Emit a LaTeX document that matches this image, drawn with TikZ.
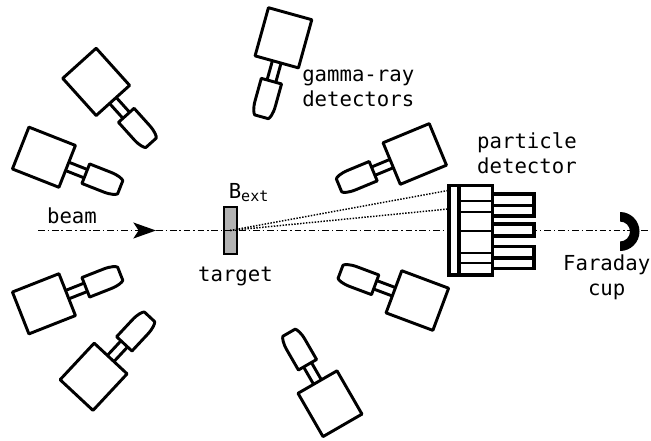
\documentclass[tikz,border=0pt]{standalone}
\usepackage{fontspec}
\newfontfamily\lblfont{DejaVu Sans Mono}
\usetikzlibrary{arrows.meta}
\begin{document}
\begin{tikzpicture}[x=0.75pt,y=-0.75pt,
  lbl/.style={font=\lblfont\fontsize{15.5}{18.75}\selectfont, inner sep=0pt},
  detline/.style={line width=2.2pt, line join=round},
  beamline/.style={line width=1pt, dash pattern=on 5pt off 2.2pt on 1pt off 2.2pt},
  dotline/.style={line width=1.1pt, dash pattern=on 1.1pt off 1.1pt},
  pdthick/.style={line width=2.4pt},
  pdthin/.style={line width=1.6pt},
  % one gamma-ray detector: crystal, neck and housing, pointing along +x towards the origin
  gdet/.pic={
    \draw[detline, fill=white] (175,-22.5) rectangle (225,22.5);
    \draw[detline] (155,-4.5) -- (175,-4.5) (155,4.5) -- (175,4.5);
    \draw[detline, fill=white] (155,-10.5) -- (132,-10.5)
      .. controls (124,-10.5) and (119,-8.5) .. (118,-7) -- (118,7)
      .. controls (119,8.5) and (124,10.5) .. (132,10.5) -- (155,10.5) -- cycle;
  }
]
\useasboundingbox (0,0) rectangle (651,440);

% target foil
\node[draw, line width=1.5pt, fill=gray!60, minimum width=9.75pt, minimum height=34.9pt,
  inner sep=0pt] (target) at (230,230.5) {};

% gamma-ray detector array around the target
\foreach \ang in {74.5,132,158.5,201.5,227,300,339.5,22.5}
  \pic[rotate=\ang] at (target.center) {gdet};

% beam axis
\coordinate (bs) at (38,230.5);
\coordinate (ah) at (156,230.5);
\coordinate (be) at (651,230.5);
\draw[beamline, -{Stealth[length=17pt,width=12pt,inset=4pt]}] (bs) -- (ah);
\draw[beamline] (ah) -- (be);

% scattered particle paths
\coordinate (pdA) at (448,190.5);
\coordinate (pdB) at (448,209);
\draw[dotline] (target.center) -- (pdA);
\draw[dotline] (target.center) -- (pdB);

% particle detector: strips, segmented block and light guides
\foreach \ya/\yb in {194/216, 224/236, 246.5/268.5}
  \draw[pdthick, fill=white] (492.5,\ya) rectangle (534,\yb);
\draw[pdthick] (492.5,205.5) -- (534,205.5) (492.5,258) -- (534,258);
\draw[pdthick, fill=white] (459,185.5) rectangle (492.5,275);
\foreach \y in {200.7,211.7,230.7,252.7,262.7}
  \draw[pdthin] (459,\y) -- (492.5,\y);
\draw[pdthick, fill=white] (449,185.5) rectangle (459,275);

% Faraday cup: half ring open towards the target
\fill (620,212) arc[start angle=-90, end angle=90, radius=19.5] -- (620,241.5)
  arc[start angle=90, end angle=-90, radius=10] -- cycle;

% labels
\node[lbl, anchor=base] (beamlbl) at (72,223.5) {beam};
\node[lbl, anchor=base] (targetlbl) at (235.5,281.5) {target};
\node[lbl, anchor=base west] (bext) at (228.5,198.5)
  {B\raisebox{-2.3pt}{\fontsize{11.3}{12}\selectfont ext}};
\node[lbl, anchor=base west] (gammaA) at (302,81.7) {gamma-ray};
\node[lbl, anchor=base west] (gammaB) at (302,106.7) {detectors};
\node[lbl, anchor=base] (partA) at (527,148) {particle};
\node[lbl, anchor=base] (partB) at (527,173.3) {detector};
\node[lbl, anchor=base] (farA) at (606.7,270) {Faraday};
\node[lbl, anchor=base] (farB) at (606.7,295.5) {cup};
\end{tikzpicture}
\end{document}
